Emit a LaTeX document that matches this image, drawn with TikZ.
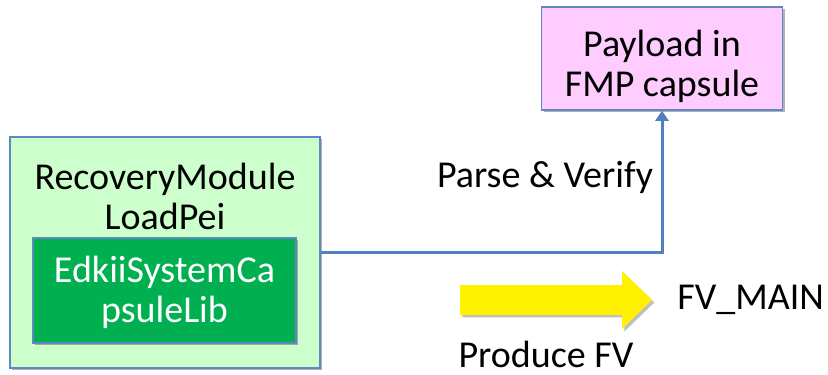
\documentclass[tikz,border=0pt]{standalone}
\usepackage{fontspec}
\setmainfont{Carlito}
\usetikzlibrary{arrows.meta,shadows}
\definecolor{boxblue}{RGB}{95,135,195}
\definecolor{lightgreen}{RGB}{204,255,204}
\definecolor{darkgreen}{RGB}{0,176,80}
\definecolor{pinkfill}{RGB}{255,204,255}
\definecolor{linkblue}{RGB}{79,129,189}
\tikzset{
  txt/.style={font=\fontsize{19}{20}\selectfont, align=center, inner sep=0pt},
  shade box/.style={draw=boxblue, line width=0.75pt, drop shadow={shadow xshift=1.2pt, shadow yshift=-1.2pt, opacity=0.3, fill=black}},
  link/.style={draw=linkblue, line width=1.5pt, -{Triangle[length=5pt,width=6.5pt]}},
  yellowarrow/.style={fill=yellow, drop shadow={shadow xshift=1.2pt, shadow yshift=-1.2pt, opacity=0.25, fill=black}},
}
\begin{document}
\begin{tikzpicture}[x=0.5pt,y=-0.5pt]
\useasboundingbox (0,0) rectangle (828,374);
% outer box
\node[shade box, fill=lightgreen, minimum width=155pt, minimum height=115.5pt, inner sep=0pt] (outer) at (165,252.5) {};
\node[txt] (outertxt) at (165,196) {RecoveryModule\\LoadPei};
% inner box
\node[shade box, fill=darkgreen, minimum width=131.5pt, minimum height=52.5pt, inner sep=0pt] (inner) at (164.5,290.5) {};
\node[txt, text=white] (innertxt) at (164.5,292) {EdkiiSystemCa\\psuleLib};
% pink box
\node[shade box, fill=pinkfill, minimum width=120.5pt, minimum height=51.5pt, inner sep=0pt] (pink) at (662,58.5) {};
\node[txt] (pinktxt) at (662,66) {Payload in\\FMP capsule};
% connector
\draw[link] (outer.east) -| (pink.south);
\node[txt] (parse) at (545,177) {Parse \& Verify};
% yellow arrow
\path[yellowarrow] (460,285) -- (622,285) -- (622,271) -- (652,300) -- (622,329) -- (622,315) -- (460,315) -- cycle;
\node[txt, anchor=west] (fvmain) at (677,300) {FV\_MAIN};
\node[txt] (produce) at (546,354) {Produce FV};
\end{tikzpicture}
\end{document}
